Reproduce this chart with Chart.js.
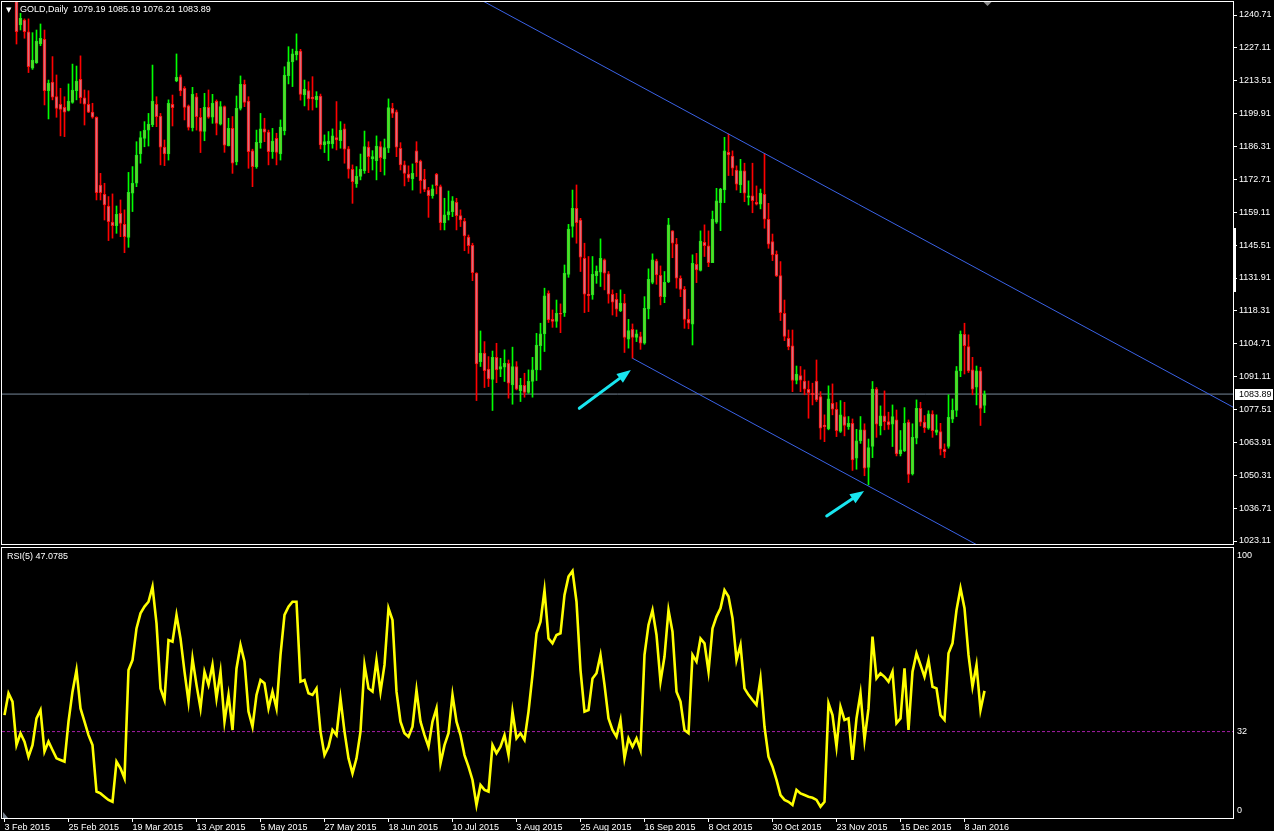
<!DOCTYPE html>
<html><head><meta charset="utf-8">
<script src="https://cdn.jsdelivr.net/npm/chart.js@4.4.1/dist/chart.umd.min.js"></script>
<style>
html,body{margin:0;padding:0;background:#000;width:1274px;height:831px;overflow:hidden;}
#wrap{position:relative;width:1274px;height:831px;background:#000;}
#c1{position:absolute;left:0;top:0;width:1274px;height:546px;}
#c2{position:absolute;left:0;top:546px;width:1274px;height:285px;}
.lbl{position:absolute;color:#fff;font:9px "Liberation Sans",Arial,sans-serif;white-space:pre;line-height:10px;}
.tri{position:absolute;color:#fff;font:7px "DejaVu Sans",sans-serif;line-height:8px;}
</style></head><body>
<div id="wrap">
<canvas id="c1" width="1274" height="546"></canvas>
<canvas id="c2" width="1274" height="285"></canvas>
<div class="tri" style="left:6px;top:6px;">▼</div>
<div class="lbl" id="hdr" style="left:20px;top:4px;"></div>
<div class="lbl" id="rsiHdr" style="left:7px;top:551px;"></div>
</div>
<script>
// ---------- DATA ----------
const opens = [1275.0,1261.0,1264.0,1263.0,1236.6,1238.6,1233.8,1218.7,1221.0,1228.7,
1230.6,1209.4,1213.0,1207.0,1203.8,1202.5,1201.2,1204.5,1209.4,1214.1,
1206.4,1203.8,1200.5,1198.4,1170.4,1166.5,1161.7,1155.0,1153.6,1158.7,
1154.1,1148.7,1167.0,1171.1,1183.2,1189.7,1193.1,1195.3,1203.8,1198.9,
1186.1,1183.2,1203.8,1213.4,1215.1,1210.4,1203.1,1194.1,1206.9,1198.4,
1192.5,1202.5,1198.4,1205.0,1195.6,1202.8,1186.7,1193.8,1179.9,1202.1,
1212.0,1205.1,1184.5,1178.0,1187.9,1193.6,1192.3,1184.2,1189.7,1183.2,
1192.9,1215.6,1221.3,1224.2,1225.8,1207.6,1209.4,1206.8,1205.6,1207.2,
1187.0,1187.4,1187.4,1190.0,1188.7,1193.6,1185.3,1176.9,1170.8,1173.9,
1176.3,1186.1,1181.2,1180.5,1186.3,1181.2,1185.6,1202.1,1200.7,1185.6,
1178.7,1174.9,1172.9,1184.5,1180.3,1172.7,1168.3,1166.0,1174.8,1169.7,
1154.8,1158.0,1159.4,1163.2,1157.7,1155.5,1148.8,1145.4,1133.9,1097.3,
1100.8,1094.2,1090.0,1099.1,1094.2,1095.0,1096.6,1087.7,1095.3,1085.3,
1087.5,1084.6,1089.1,1093.9,1103.9,1108.8,1125.6,1114.8,1113.9,1117.3,
1117.6,1133.4,1153.2,1160.7,1155.9,1140.1,1125.2,1124.9,1132.9,1134.3,
1139.4,1133.6,1125.2,1123.1,1118.4,1121.5,1106.6,1110.7,1107.3,1107.7,
1104.9,1119.1,1130.1,1139.0,1133.0,1124.2,1130.4,1151.4,1145.9,1131.8,
1127.2,1114.8,1112.8,1137.6,1135.0,1146.7,1145.2,1138.3,1155.0,1163.1,
1168.3,1183.9,1182.4,1176.6,1170.4,1176.2,1165.2,1165.9,1163.2,1162.5,
1166.5,1156.2,1147.0,1141.7,1132.9,1117.3,1107.0,1103.9,1089.5,1091.5,
1089.3,1085.9,1084.2,1089.3,1082.9,1071.1,1069.5,1080.1,1077.6,1068.4,
1074.6,1070.4,1071.8,1057.4,1064.5,1069.1,1053.5,1062.2,1086.0,1070.7,
1074.9,1072.5,1071.4,1073.2,1059.1,1060.5,1072.3,1050.9,1065.6,1078.0,
1072.3,1069.8,1075.6,1068.0,1068.4,1061.1,1062.2,1073.5,1077.1,1093.5,
1108.6,1103.5,1093.9,1086.7,1093.5,1079.19];

const highs = [1277.0,1276.0,1271.0,1265.0,1241.4,1239.1,1239.1,1233.4,1234.5,1237.0,
1234.5,1213.8,1223.5,1215.9,1210.4,1206.9,1212.2,1220.4,1219.6,1223.8,
1209.7,1209.4,1204.2,1198.6,1175.2,1171.1,1165.6,1166.7,1161.7,1164.2,
1160.1,1175.6,1178.0,1188.3,1192.5,1196.6,1200.0,1220.0,1206.9,1200.0,
1189.0,1205.6,1207.6,1224.6,1215.9,1211.1,1203.5,1210.8,1208.3,1202.1,
1208.3,1209.7,1207.9,1205.6,1204.9,1203.1,1198.0,1198.7,1207.2,1215.5,
1213.8,1206.9,1185.2,1193.1,1200.0,1198.0,1193.1,1193.8,1191.8,1197.3,
1219.3,1227.6,1226.6,1232.9,1226.5,1213.8,1213.1,1215.2,1209.0,1208.0,
1191.1,1192.5,1193.6,1204.9,1196.6,1195.6,1186.3,1178.7,1178.0,1183.2,
1192.7,1188.3,1184.6,1190.7,1188.3,1189.4,1206.0,1204.2,1201.4,1187.9,
1180.3,1178.3,1179.1,1188.3,1180.7,1176.9,1169.4,1170.4,1175.2,1170.4,
1164.9,1167.9,1165.6,1164.9,1160.1,1156.6,1149.7,1146.3,1134.1,1110.0,
1105.6,1099.4,1101.7,1104.9,1098.7,1102.2,1098.0,1103.3,1097.3,1090.4,
1092.5,1093.9,1099.1,1109.0,1113.2,1127.7,1126.6,1118.7,1122.8,1121.2,
1137.3,1154.1,1168.3,1170.4,1156.6,1146.3,1140.8,1140.8,1136.9,1148.1,
1139.8,1134.6,1127.0,1125.6,1127.0,1125.2,1114.8,1112.9,1110.4,1109.5,
1124.2,1135.7,1141.9,1139.7,1136.9,1134.6,1156.6,1151.5,1148.3,1132.8,
1128.4,1119.0,1141.5,1142.1,1151.4,1153.9,1151.4,1159.6,1169.0,1169.0,
1190.1,1191.5,1184.5,1178.3,1181.0,1179.4,1172.1,1179.4,1170.0,1168.7,
1183.5,1162.8,1150.1,1143.1,1138.7,1122.8,1110.4,1110.4,1095.5,1095.3,
1093.9,1089.3,1088.4,1098.0,1084.9,1075.3,1087.3,1088.1,1080.4,1081.2,
1080.5,1074.6,1073.6,1069.3,1074.6,1071.6,1065.3,1089.1,1086.6,1079.0,
1085.2,1076.4,1079.4,1077.3,1068.8,1078.3,1073.2,1071.6,1081.5,1080.5,
1075.0,1077.0,1077.0,1075.3,1071.8,1063.3,1083.6,1081.9,1095.3,1110.0,
1113.2,1108.4,1099.1,1095.5,1095.0,1085.19];

const lows = [1255.0,1257.0,1259.0,1228.7,1234.5,1231.1,1216.9,1218.2,1220.7,1228.0,
1203.5,1197.7,1205.6,1198.4,1190.7,1190.4,1201.0,1204.2,1205.6,1204.2,
1195.2,1200.3,1198.0,1164.2,1164.2,1155.9,1147.4,1148.4,1150.4,1149.0,
1142.4,1144.6,1159.4,1169.7,1179.4,1186.2,1186.5,1194.5,1194.5,1178.7,
1178.4,1180.7,1194.8,1213.1,1207.3,1197.3,1193.1,1192.7,1193.1,1183.8,
1188.7,1198.0,1195.9,1191.1,1195.2,1183.9,1186.5,1175.2,1178.7,1201.4,
1202.8,1177.3,1169.7,1177.3,1185.6,1188.3,1178.7,1181.4,1178.7,1180.7,
1191.1,1212.2,1211.1,1222.1,1205.5,1203.1,1201.4,1201.4,1202.5,1185.3,
1183.8,1180.5,1185.6,1184.9,1185.6,1179.4,1173.2,1162.8,1169.4,1172.5,
1175.2,1175.5,1176.6,1172.5,1175.9,1174.5,1183.8,1198.3,1182.1,1176.6,
1170.0,1171.8,1168.3,1173.9,1167.0,1167.6,1157.0,1164.9,1166.7,1151.8,
1151.8,1155.9,1157.3,1151.8,1153.2,1143.2,1142.1,1130.8,1081.2,1095.3,
1086.6,1087.0,1077.1,1088.6,1091.1,1089.1,1082.2,1079.7,1085.6,1080.8,
1082.6,1084.2,1082.6,1089.5,1093.9,1101.5,1113.5,1111.5,1111.5,1109.3,
1116.0,1132.2,1148.8,1146.3,1134.6,1117.6,1118.0,1123.1,1129.7,1128.4,
1127.0,1121.5,1116.6,1116.0,1118.0,1101.1,1102.9,1098.7,1105.6,1102.4,
1104.5,1115.0,1129.5,1129.3,1120.8,1121.7,1130.0,1140.3,1127.7,1124.2,
1111.1,1110.9,1104.2,1130.0,1134.8,1140.8,1136.6,1138.3,1154.5,1151.5,
1163.1,1174.3,1174.3,1168.3,1167.2,1163.5,1162.1,1158.9,1162.1,1160.5,
1152.5,1144.2,1139.1,1132.5,1114.3,1106.0,1102.2,1084.9,1088.1,1084.9,
1083.6,1073.9,1079.4,1080.8,1065.2,1064.2,1069.1,1075.3,1066.3,1068.0,
1066.6,1069.3,1052.3,1052.8,1063.5,1050.1,1046.3,1057.6,1066.0,1067.0,
1069.1,1069.3,1062.2,1058.3,1058.3,1060.1,1047.3,1050.4,1063.3,1070.7,
1068.0,1069.3,1066.0,1067.0,1058.7,1057.6,1061.5,1072.1,1074.6,1091.1,
1092.2,1092.8,1083.6,1079.4,1070.9,1076.21];

const closes = [1261.0,1264.0,1264.0,1233.8,1239.3,1233.8,1219.3,1222.1,1229.9,1231.1,
1209.4,1212.5,1206.7,1202.1,1201.7,1200.5,1205.1,1209.7,1213.4,1206.5,
1203.8,1200.5,1198.4,1167.2,1167.2,1162.1,1155.2,1153.6,1158.3,1154.5,
1149.0,1167.4,1171.1,1182.8,1190.0,1193.1,1195.6,1205.1,1198.7,1186.0,
1183.2,1204.2,1202.4,1214.9,1209.3,1202.5,1194.2,1207.9,1198.7,1192.5,
1202.5,1198.4,1204.2,1195.9,1202.8,1186.9,1193.8,1179.4,1202.1,1212.0,
1204.5,1184.2,1178.0,1188.0,1193.6,1192.2,1184.2,1188.6,1183.9,1194.3,
1215.9,1221.3,1224.6,1225.8,1207.9,1210.0,1206.0,1206.0,1207.2,1187.0,
1188.3,1188.6,1190.7,1189.0,1193.1,1185.2,1176.9,1171.8,1174.1,1176.9,
1186.3,1182.1,1182.1,1186.5,1181.7,1185.9,1202.4,1200.0,1186.0,1178.7,
1175.2,1173.2,1175.2,1179.6,1172.2,1168.6,1166.0,1168.8,1170.1,1154.8,
1158.0,1159.4,1163.8,1157.7,1155.9,1149.3,1145.3,1134.1,1096.4,1100.8,
1093.6,1090.2,1099.1,1093.9,1095.3,1096.6,1088.4,1095.3,1085.9,1087.5,
1084.6,1089.2,1093.9,1104.2,1108.8,1124.5,1114.6,1113.9,1117.3,1116.9,
1133.9,1152.2,1160.7,1154.8,1140.5,1125.2,1124.6,1133.4,1134.8,1140.1,
1133.9,1125.2,1121.9,1119.0,1121.5,1107.3,1110.2,1107.3,1108.8,1104.9,
1119.4,1131.4,1139.4,1133.2,1124.2,1130.1,1153.9,1146.3,1131.8,1127.2,
1114.8,1113.2,1138.0,1135.3,1147.2,1145.3,1138.3,1156.3,1163.8,1168.7,
1184.5,1182.8,1177.3,1170.7,1176.2,1167.0,1165.9,1163.9,1162.5,1167.0,
1156.2,1145.9,1141.5,1132.8,1117.6,1107.7,1103.5,1089.5,1092.2,1089.6,
1085.9,1084.5,1083.6,1081.5,1069.8,1070.4,1081.9,1077.6,1068.8,1075.3,
1070.9,1071.8,1056.7,1064.5,1069.1,1053.2,1061.8,1086.0,1071.4,1074.9,
1072.5,1071.1,1074.6,1059.1,1060.8,1071.8,1050.7,1066.0,1078.0,1072.3,
1070.0,1075.7,1068.8,1069.1,1061.1,1060.1,1074.3,1077.3,1093.5,1108.6,
1103.9,1093.5,1085.9,1093.5,1078.0,1083.89];

const rsi = [38.1,46.2,43.1,27.0,31.4,28.3,22.7,27.0,36.9,40.0,
24.6,28.3,25.2,22.1,21.5,20.9,35.7,46.8,54.8,40.6,
35.7,30.7,27.0,9.8,9.1,7.9,6.7,6.0,20.9,18.4,
14.7,54.8,58.5,70.2,75.8,78.3,80.1,85.7,72.1,48.0,
43.7,65.9,65.3,75.2,66.5,54.2,43.1,59.1,49.3,40.6,
54.2,49.3,56.7,44.3,54.2,35.7,45.6,32.6,55.4,64.1,
57.9,39.4,33.8,45.6,51.1,49.9,40.6,46.8,40.6,60.4,
75.2,78.3,80.1,80.1,50.5,51.1,46.2,45.6,48.0,32.0,
23.3,26.4,32.6,30.7,44.3,32.0,22.1,16.5,22.1,32.0,
56.7,48.0,46.8,58.5,46.8,56.7,77.7,73.3,46.8,35.7,
31.4,30.1,33.8,47.4,35.7,30.7,26.4,35.7,40.6,20.2,
27.0,31.4,45.6,35.7,30.7,23.3,19.0,14.1,4.8,12.2,
10.4,9.8,27.0,24.0,26.4,30.7,23.3,39.4,29.5,31.4,
28.9,39.4,53.0,68.4,72.7,84.4,66.5,64.7,67.8,68.4,
82.6,89.4,91.5,80.1,54.8,39.4,40.0,51.7,53.6,60.4,
49.3,36.9,32.6,30.1,36.3,22.1,29.5,26.4,29.5,25.2,
60.4,71.5,77.0,67.8,50.5,59.8,77.0,69.0,46.8,43.1,
32.6,31.4,60.4,57.9,66.5,64.7,54.2,70.2,74.6,77.7,
84.4,82.0,74.0,58.5,64.1,48.0,45.6,43.7,41.9,51.7,
33.8,22.7,19.0,14.1,8.5,6.7,6.0,4.8,10.4,9.1,
8.5,7.9,7.5,6.7,4.2,6.0,42.5,38.1,26.4,41.2,
36.3,36.9,21.5,36.9,46.2,28.9,40.6,67.2,51.7,53.6,
52.3,50.5,54.2,35.1,36.9,55.4,32.6,54.2,61.0,56.7,
52.3,58.5,48.6,48.0,38.1,36.3,61.0,64.7,77.0,85.1,
77.7,60.4,48.6,56.7,40.0,47.0785];

const priceTicks = [1240.71,1227.11,1213.51,1199.91,1186.31,1172.71,1159.11,1145.51,1131.91,
  1118.31,1104.71,1091.11,1077.51,1063.91,1050.31,1036.71,1023.11];
const dateTickIdx = [0,16,32,48,64,80,96,112,128,144,160,176,192,208,224,240];
const dateLabels = ["3 Feb 2015","25 Feb 2015","19 Mar 2015","13 Apr 2015","5 May 2015","27 May 2015",
  "18 Jun 2015","10 Jul 2015","3 Aug 2015","25 Aug 2015","16 Sep 2015","8 Oct 2015","30 Oct 2015",
  "23 Nov 2015","15 Dec 2015","8 Jan 2016"];
const rsiLevel = 32;
const rsiTickPos = [97.4, 32, 2.6];
const rsiTickLabels = ["100","32","0"];
// trend lines (bar index, price)
const upperTrend = [{x:110, y:1255.1},{x:320, y:1066.96}];
const lowerTrend = [{x:157, y:1098.7},{x:260, y:1006.4}];
// arrows (bar index, price) tail -> tip
const arrowTails = [{x:143.7, y:1078.0},{x:205.55, y:1033.46}];
const arrowTips  = [{x:156.6, y:1093.85},{x:214.9, y:1043.8}];

// ---------- LAYOUT / STYLE ----------
const xMin = -0.625, xMax = 307.125;
const yMin = 1021.87, yMax = 1246.09;
const FONT = {family:'"Liberation Sans", Arial, sans-serif', size:9};
const N = closes.length;
const idx = Array.from({length:N}, (_, i) => i);
const isUp = i => closes[i] > opens[i];
const BULL_WICK = '#00ff00', BEAR_WICK = '#ff0000';
const BULL_FILL = '#5fd22c', BEAR_FILL = '#d4707e';
const BULL_EDGE = '#1ee81e', BEAR_EDGE = '#ff1010';

document.getElementById('hdr').textContent = 'GOLD,Daily  ' +
  [opens[N-1], highs[N-1], lows[N-1], closes[N-1]].map(v => v.toFixed(2)).join(' ');
document.getElementById('rsiHdr').textContent = 'RSI(5) ' + rsi[N-1].toFixed(4);

const framePlugin = {
  id: 'frame',
  afterDraw(chart) {
    const {ctx, chartArea: a} = chart;
    ctx.save();
    ctx.strokeStyle = '#ffffff'; ctx.lineWidth = 1;
    ctx.strokeRect(a.left - 0.5, a.top - 0.5, a.right - a.left + 1, a.bottom - a.top + 1);
    ctx.restore();
  }
};

const annotPlugin = {
  id: 'annot',
  afterDatasetsDraw(chart) {
    const {ctx, chartArea: a, scales: {x, y}} = chart;
    ctx.save();
    ctx.beginPath(); ctx.rect(a.left, a.top, a.right - a.left, a.bottom - a.top); ctx.clip();
    ctx.strokeStyle = '#19e6f0'; ctx.fillStyle = '#19e6f0';
    for (let k = 0; k < arrowTails.length; k++) {
      const x0 = x.getPixelForValue(arrowTails[k].x), y0 = y.getPixelForValue(arrowTails[k].y);
      const x1 = x.getPixelForValue(arrowTips[k].x), y1 = y.getPixelForValue(arrowTips[k].y);
      const ang = Math.atan2(y1 - y0, x1 - x0);
      const hl = 14, hw = 5.5;
      const bx = x1 - hl * Math.cos(ang), by = y1 - hl * Math.sin(ang);
      ctx.lineWidth = 3; ctx.lineCap = 'round';
      ctx.beginPath(); ctx.moveTo(x0, y0); ctx.lineTo(bx, by); ctx.stroke();
      ctx.beginPath();
      ctx.moveTo(x1, y1);
      ctx.lineTo(bx + hw * Math.sin(ang), by - hw * Math.cos(ang));
      ctx.lineTo(bx - hw * Math.sin(ang), by + hw * Math.cos(ang));
      ctx.closePath(); ctx.fill();
    }
    ctx.restore();
    ctx.save();
    const sx = x.getPixelForValue(N - 1 + 0.75);
    ctx.fillStyle = '#8a8a8a';
    ctx.beginPath(); ctx.moveTo(sx - 4, a.top); ctx.lineTo(sx + 4, a.top); ctx.lineTo(sx, a.top + 4); ctx.closePath(); ctx.fill();
    ctx.restore();
  },
  afterDraw(chart) {
    const {ctx, chartArea: a, scales: {y}} = chart;
    const last = closes[N - 1];
    const py = Math.round(y.getPixelForValue(last));
    ctx.save();
    // scale slider mark on the price axis
    ctx.fillStyle = '#ffffff';
    ctx.fillRect(a.right, 228, 3, 64);
    // bid price label
    ctx.fillRect(a.right + 2, py - 5, 38, 11);
    ctx.fillStyle = '#000000';
    ctx.font = '9px "Liberation Sans", Arial, sans-serif';
    ctx.textBaseline = 'middle'; ctx.textAlign = 'left';
    ctx.fillText(last.toFixed(2), a.right + 6, py + 0.5);
    ctx.restore();
  }
};

const cornerPlugin = {
  id: 'corner',
  afterDraw(chart) {
    const {ctx, chartArea: a} = chart;
    ctx.save();
    ctx.fillStyle = '#7a8490';
    ctx.beginPath(); ctx.moveTo(a.left + 1, a.bottom - 6); ctx.lineTo(a.left + 1, a.bottom); ctx.lineTo(a.left + 6, a.bottom); ctx.closePath(); ctx.fill();
    ctx.restore();
  }
};

// ---------- MAIN PRICE CHART ----------
new Chart(document.getElementById('c1'), {
  type: 'bar',
  data: {
    datasets: [
      { type: 'line', data: [{x: xMin, y: closes[N-1]}, {x: xMax, y: closes[N-1]}],
        borderColor: '#778899', borderWidth: 1, pointRadius: 0, order: 5, clip: 0 },
      { type: 'bar', data: idx.map(i => ({x: i, y: [lows[i], highs[i]]})),
        backgroundColor: idx.map(i => isUp(i) ? BULL_WICK : BEAR_WICK),
        barThickness: 1, grouped: false, order: 4, clip: 0 },
      { type: 'bar', data: idx.map(i => ({x: i, y: [opens[i], closes[i]]})),
        backgroundColor: idx.map(i => isUp(i) ? BULL_FILL : BEAR_FILL),
        borderColor: idx.map(i => isUp(i) ? BULL_EDGE : BEAR_EDGE),
        borderWidth: 1, borderSkipped: false, barThickness: 3, minBarLength: 1,
        grouped: false, order: 3, clip: 0 },
      { type: 'line', data: upperTrend, borderColor: '#3a62e6', borderWidth: 1, pointRadius: 0, order: 1, clip: 0 },
      { type: 'line', data: lowerTrend, borderColor: '#3a62e6', borderWidth: 1, pointRadius: 0, order: 1, clip: 0 }
    ]
  },
  options: {
    responsive: false, devicePixelRatio: 1, animation: false, events: [],
    layout: {padding: {left: 2, top: 2, right: 0, bottom: 2}},
    plugins: {legend: {display: false}, tooltip: {enabled: false}},
    scales: {
      x: {type: 'linear', display: false, min: xMin, max: xMax, offset: false},
      y: {
        position: 'right', min: yMin, max: yMax,
        afterBuildTicks: s => { s.ticks = priceTicks.map(v => ({value: v})); },
        afterFit: s => { s.width = 41; s.paddingTop = 0; s.paddingBottom = 0; },
        ticks: {color: '#ffffff', font: FONT, padding: 2, autoSkip: false,
                callback: v => Number(v).toFixed(2)},
        grid: {display: true, drawOnChartArea: false, drawTicks: true, tickLength: 4, color: '#ffffff'},
        border: {display: true, color: '#ffffff'}
      }
    }
  },
  plugins: [framePlugin, annotPlugin]
});

// ---------- RSI CHART ----------
new Chart(document.getElementById('c2'), {
  type: 'line',
  data: {
    datasets: [
      { data: [{x: xMin, y: rsiLevel}, {x: xMax, y: rsiLevel}], borderColor: '#a81ea8',
        borderWidth: 1, borderDash: [3, 2], pointRadius: 0, order: 2, clip: 0 },
      { data: idx.map(i => ({x: i, y: rsi[i]})), borderColor: '#ffff00', borderWidth: 2.6,
        pointRadius: 0, tension: 0, order: 1, clip: 0 }
    ]
  },
  options: {
    responsive: false, devicePixelRatio: 1, animation: false, events: [],
    layout: {padding: {left: 2, top: 2, right: 0, bottom: 0}},
    plugins: {legend: {display: false}, tooltip: {enabled: false}},
    scales: {
      x: {
        type: 'linear', min: xMin, max: xMax, offset: false,
        afterBuildTicks: s => { s.ticks = dateTickIdx.map(v => ({value: v})); },
        afterFit: s => { s.height = 13; s.paddingLeft = 0; s.paddingRight = 0; },
        ticks: {color: '#ffffff', font: FONT, align: 'start', padding: 0, maxRotation: 0,
                autoSkip: false, callback: (v, i) => dateLabels[i]},
        grid: {display: true, drawOnChartArea: false, drawTicks: true, tickLength: 4, color: '#ffffff'},
        border: {display: true, color: '#ffffff'}
      },
      y: {
        position: 'right', min: 0, max: 100,
        afterBuildTicks: s => { s.ticks = rsiTickPos.map(v => ({value: v})); },
        afterFit: s => { s.width = 41; s.paddingTop = 0; s.paddingBottom = 0; },
        ticks: {color: '#ffffff', font: FONT, padding: 4, autoSkip: false,
                callback: (v, i) => rsiTickLabels[i]},
        grid: {display: true, drawOnChartArea: false, drawTicks: false},
        border: {display: true, color: '#ffffff'}
      }
    }
  },
  plugins: [framePlugin, cornerPlugin]
});
</script>
</body></html>
